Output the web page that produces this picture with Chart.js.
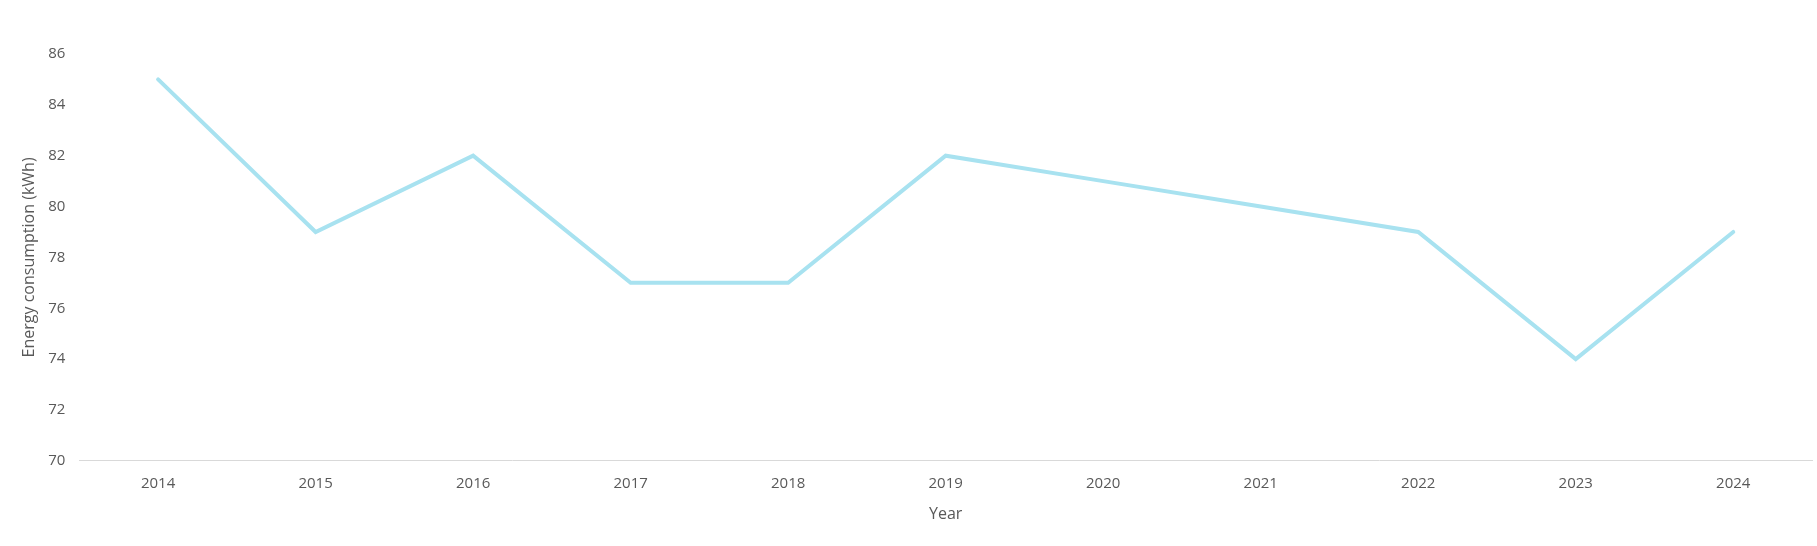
<!DOCTYPE html>
<html>
<head>
<meta charset="utf-8">
<script src="https://cdn.jsdelivr.net/npm/chart.js@4"></script>
<style>
  html, body { margin: 0; padding: 0; background: #fff; }
  #wrap { width: 1817px; height: 546px; }
</style>
</head>
<body>
<div id="wrap"><canvas id="linha"></canvas></div>
<script>
const years = ['2014', '2015', '2016', '2017', '2018', '2019', '2020', '2021', '2022', '2023', '2024'];
const consumption = [85, 79, 82, 77, 77, 82, 81, 80, 79, 74, 79];
const yMin = 70;
const yMax = 86;
const yStep = 2;

Chart.defaults.font.family = "'Open Sans', sans-serif";
Chart.defaults.color = '#595959';

let linha = new Chart(document.getElementById('linha'), {
  type: 'line',
  data: {
    labels: years,
    datasets: [{
      label: 'Energy consumption',
      data: consumption,
      borderColor: '#a8e2f0',
      borderWidth: 4,
      borderCapStyle: 'round',
      borderJoinStyle: 'miter',
      pointRadius: 0,
      tension: 0,
      fill: false
    }]
  },
  options: {
    responsive: true,
    maintainAspectRatio: false,
    animation: false,
    layout: {
      padding: { left: 20, right: 5, top: 54, bottom: 22 }
    },
    plugins: {
      legend: { display: false },
      tooltip: { enabled: false }
    },
    scales: {
      x: {
        offset: true,
        grid: { display: false, drawTicks: false },
        border: { display: true, color: '#d9d9d9', width: 1 },
        ticks: { font: { size: 15 }, padding: 14, maxRotation: 0 },
        title: {
          display: true,
          text: 'Year',
          font: { size: 16 },
          padding: { top: -2, bottom: 0 }
        }
      },
      y: {
        min: yMin,
        max: yMax,
        grid: { display: false, drawTicks: false },
        border: { display: false },
        ticks: { stepSize: yStep, font: { size: 15 }, padding: 14 },
        title: {
          display: true,
          text: 'Energy consumption (kWh)',
          font: { size: 16 },
          padding: { top: 0, bottom: -5 }
        }
      }
    }
  }
});
</script>
</body>
</html>
